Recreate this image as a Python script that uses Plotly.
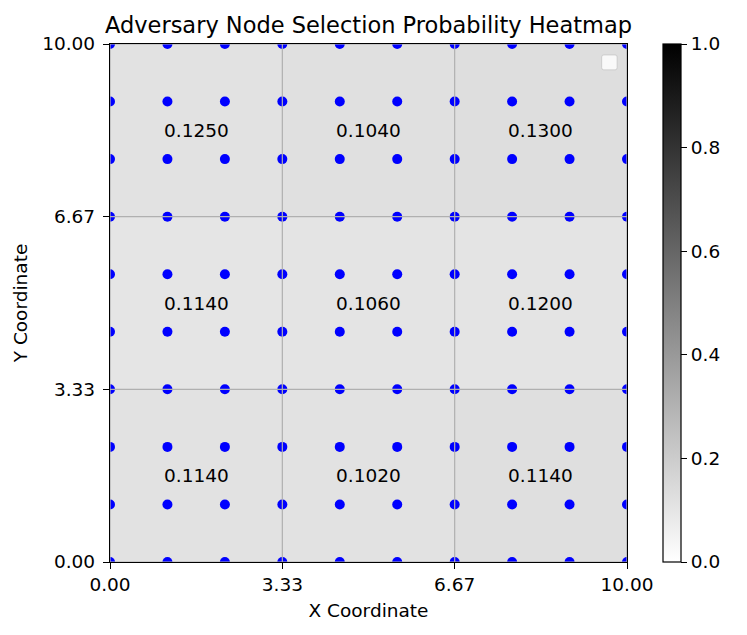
import numpy as np
import plotly.graph_objects as go

# ---- data ----
# probability printed in each grid cell, rows from bottom (y 0-3.33) to top
cell_probs = [
    [0.114, 0.102, 0.114],
    [0.114, 0.106, 0.120],
    [0.125, 0.104, 0.130],
]
cell_edges = [0.0, 10/3, 20/3, 10.0]
node_x = list(np.linspace(0, 10, 10))
node_y = list(np.linspace(0, 10, 10))
tick_vals = [0.0, 10/3, 20/3, 10.0]
tick_text = ["0.00", "3.33", "6.67", "10.00"]
cbar_ticks = [0.0, 0.2, 0.4, 0.6, 0.8, 1.0]
cbar_text = ["0.0", "0.2", "0.4", "0.6", "0.8", "1.0"]

FONT = "DejaVu Sans"
centers = [(cell_edges[i] + cell_edges[i + 1]) / 2 for i in range(3)]
probs = np.array(cell_probs)

fig = go.Figure()

# heatmap (colour array drawn transposed, as in the original)
fig.add_trace(go.Heatmap(
    z=probs.T.tolist(), x=centers, y=centers,
    colorscale=[[0, "#ffffff"], [1, "#000000"]], zmin=0, zmax=1,
    showscale=True,
    colorbar=dict(
        x=1.0696, xanchor="left", xref="paper", y=0.5, yanchor="middle",
        len=1.0, lenmode="fraction", thickness=18, thicknessmode="pixels",
        xpad=0, ypad=0,
        outlinewidth=1.2, outlinecolor="black",
        tickvals=cbar_ticks, ticktext=cbar_text, ticks="outside",
        ticklen=6, tickwidth=1.2, tickcolor="black",
        tickfont=dict(family=FONT, size=18.5, color="black"),
    ),
    hoverinfo="skip",
))

# node points
gx, gy = np.meshgrid(node_x, node_y)
fig.add_trace(go.Scatter(
    x=gx.ravel(), y=gy.ravel(), mode="markers",
    marker=dict(color="#0000ff", size=10, line=dict(width=0)),
    showlegend=False, cliponaxis=True,
))

# grid lines on top
vx, vy, hx, hy = [], [], [], []
for t in tick_vals:
    vx += [t, t, None]; vy += [0, 10, None]
    hx += [0, 10, None]; hy += [t, t, None]
fig.add_trace(go.Scatter(x=vx + hx, y=vy + hy, mode="lines",
                         line=dict(color="#b0b0b0", width=1.2),
                         showlegend=False, hoverinfo="skip"))

# cell labels
for r in range(3):
    for c in range(3):
        fig.add_annotation(x=centers[c], y=centers[r], text=f"{cell_probs[r][c]:.4f}",
                           showarrow=False, font=dict(family=FONT, size=18.5, color="black"))

# empty legend box
fig.add_shape(type="path", xref="paper", yref="paper",
              path="M 0.955,0.979 L 0.977,0.979 Q 0.981,0.979 0.981,0.975 L 0.981,0.954 "
                   "Q 0.981,0.950 0.977,0.950 L 0.955,0.950 Q 0.951,0.950 0.951,0.954 "
                   "L 0.951,0.975 Q 0.951,0.979 0.955,0.979 Z",
              fillcolor="rgba(255,255,255,0.8)", line=dict(color="#cccccc", width=1))

axis_common = dict(
    range=[0, 10], tickvals=tick_vals, ticktext=tick_text,
    showgrid=False, zeroline=False, showline=True, linecolor="black", linewidth=1.3,
    mirror=True, ticks="outside", ticklen=6, tickwidth=1.2, tickcolor="black",
    tickfont=dict(family=FONT, size=18.5, color="black"),
)
fig.update_xaxes(**axis_common, title=dict(text="X Coordinate", standoff=9,
                 font=dict(family=FONT, size=18.5, color="black")))
fig.update_yaxes(**axis_common, ticklabelstandoff=4,
                 title=dict(text="Y Coordinate", standoff=9,
                 font=dict(family=FONT, size=18.5, color="black")))

# page body has an 8px margin, so the figure is drawn 8px smaller
fig.update_layout(
    width=739, height=627,
    margin=dict(l=102, r=120, t=36, b=73, autoexpand=False),
    paper_bgcolor="white", plot_bgcolor="white",
    title=dict(text="Adversary Node Selection Probability Heatmap",
               x=0.5, xref="paper", xanchor="center",
               y=1, yref="paper", yanchor="bottom", pad=dict(b=11),
               font=dict(family=FONT, size=22.5, color="black")),
    showlegend=False,
)

fig.write_html("out.html")
